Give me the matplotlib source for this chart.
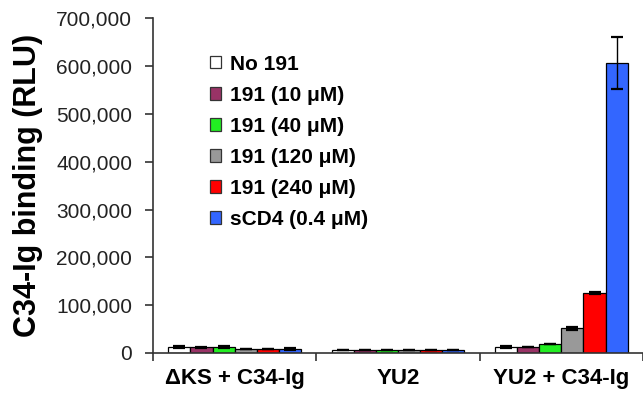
import numpy as np
import matplotlib
matplotlib.use("Agg")
import matplotlib.pyplot as plt
from matplotlib.patches import Patch

# Data
groups = ["\u0394KS + C34-Ig", "YU2", "YU2 + C34-Ig"]
series = ["No 191", "191 (10 \u03bcM)", "191 (40 \u03bcM)", "191 (120 \u03bcM)",
          "191 (240 \u03bcM)", "sCD4 (0.4 \u03bcM)"]
colors = ["#ffffff", "#993366", "#22ee22", "#999999", "#ff0000", "#3366ff"]

# values per series, one entry per group
no191 = [13000, 6000, 13000]
c10 = [12000, 6000, 12000]
c40 = [13000, 6000, 18000]
c120 = [8000, 6000, 52000]
c240 = [8000, 6000, 125000]
scd4 = [8500, 6000, 606000]
values = [no191, c10, c40, c120, c240, scd4]

no191_err = [2500, 0, 2000]
c10_err = [1500, 0, 0]
c40_err = [2500, 0, 0]
c120_err = [0, 0, 3000]
c240_err = [0, 0, 2000]
scd4_err = [2000, 0, 54000]
errors = [no191_err, c10_err, c40_err, c120_err, c240_err, scd4_err]

plt.rcParams['font.family'] = ['Liberation Sans', 'DejaVu Sans']

fig = plt.figure(figsize=(6.43, 3.96), dpi=100)
ax = fig.add_axes([153 / 643, 1 - 353 / 396, 490 / 643, (353 - 18.3) / 396])

x = np.arange(len(groups))
width = 0.1357
for k in range(len(series)):
    pos = x + (k - 2.5) * width
    errs = errors[k]
    ax.bar(pos, values[k], width, color=colors[k], edgecolor="black", linewidth=0.9, zorder=2)
    ax.errorbar(pos, values[k], yerr=errs, fmt="none", ecolor="black",
                elinewidth=1.0, capsize=4.3, capthick=1.6, zorder=3)

ax.set_xlim(-0.5, 2.5)
ax.set_ylim(0, 700000)
ax.set_yticks(np.arange(0, 700001, 100000))
ax.set_yticklabels([f"{v:,}" for v in range(0, 700001, 100000)], fontsize=15, color="#222222")

ax.set_xticks(x)
ax.set_xticklabels(groups, fontsize=16, fontweight="bold")
ax.set_xticks([-0.5, 0.5, 1.5, 2.5], minor=True)
ax.tick_params(axis="x", which="major", length=0, pad=11)
ax.tick_params(axis="x", which="minor", length=6, width=1.2, color="#333333", direction="out")
ax.tick_params(axis="y", length=6, width=1.2, color="#333333", pad=9)

for side in ["top", "right"]:
    ax.spines[side].set_visible(False)
for side in ["left", "bottom"]:
    ax.spines[side].set_linewidth(1.2)
    ax.spines[side].set_color("#333333")
ax.spines["bottom"].set_zorder(4)

ax.set_ylabel("C34-Ig binding (RLU)", fontsize=22, fontweight="bold")
ax.yaxis.set_label_coords(-0.225, 0.5)

handles = [Patch(facecolor=c, edgecolor="#333333", linewidth=0.9) for c in colors]
ax.legend(handles, series, loc="upper left", bbox_to_anchor=(195 / 643, 1 - 40 / 396),
          bbox_transform=fig.transFigure, frameon=False,
          prop={"weight": "bold", "size": 15}, handlelength=0.55, handleheight=0.55,
          handletextpad=0.45, labelspacing=0.58, borderpad=0.2)

fig.savefig("out.png", dpi=100)
